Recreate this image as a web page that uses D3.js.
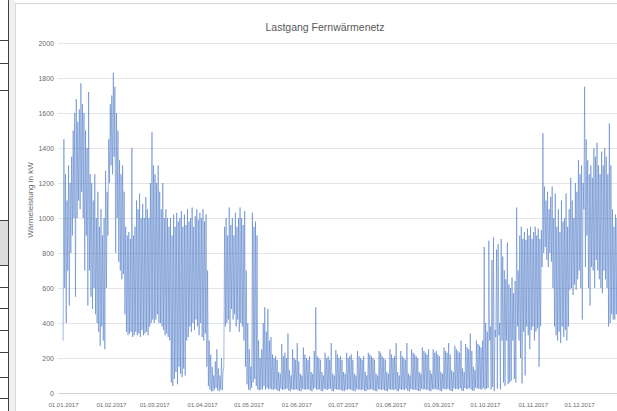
<!DOCTYPE html>
<html>
<head>
<meta charset="utf-8">
<script src="https://cdn.jsdelivr.net/npm/d3@7"></script>
<style>
  html, body { margin: 0; padding: 0; background: #ffffff; }
  svg { display: block; font-family: "Liberation Sans", Arial, sans-serif; }
</style>
</head>
<body>
<svg id="chart" width="617" height="411"></svg>
<script>
// Heat network load profile 2017: one night low and one daytime high per day (kW)
const highJan = [1450,1250,1100,1300,1200,1350,1500,1600,1680,1550,1620,1770,1650,1600,1500,1400,1720,1250,1200,1100,1250,1000,1150,950,1050,900,1000,1270,1150,1450,1650];
const lowJan  = [300,600,400,700,500,800,900,1000,550,1000,1100,1050,1150,1000,700,900,500,700,550,480,600,450,400,350,270,380,300,250,600,900,1200];
const highFeb = [1700,1830,1750,1600,1500,1330,1250,1300,1150,950,900,920,880,1400,900,950,1100,1050,1140,1000,1080,1000,1120,1050,1000,1200,1490,1300];
const lowFeb  = [1300,1250,1350,800,1000,750,700,650,680,450,350,330,340,350,320,330,350,330,340,320,360,330,340,350,330,380,400,420];
const highMar = [1250,1200,1300,1150,1050,1200,1000,1050,1000,950,1000,900,1020,950,1030,980,1000,1040,950,1020,960,1050,980,1000,1060,950,1010,1050,990,1030,1000];
const lowMar  = [400,420,450,400,400,380,360,330,340,320,300,60,40,80,120,50,150,110,90,140,100,300,320,380,350,400,360,420,380,330,400];
const highApr = [1050,980,1020,700,300,220,150,100,180,250,140,100,200,120,950,1000,900,1060,960,1000,900,1030,950,1000,1060,1000,960,1040,700,400];
const lowApr  = [320,300,340,150,40,20,10,10,20,30,15,10,20,15,150,380,400,420,350,480,420,450,380,420,350,400,380,300,150,50];
const highMay = [250,150,1030,950,980,900,300,200,250,400,490,350,480,300,320,220,200,210,190,120,110,280,210,230,200,340,130,100,250,200,190];
const lowMay  = [20,15,30,60,80,40,20,15,20,20,40,20,30,20,25,20,18,22,20,12,10,24,18,20,22,25,14,10,22,18,20];
const highJun = [285,180,110,100,260,220,200,190,210,120,110,240,490,210,200,190,120,100,230,200,210,190,285,110,100,245,220,200,210,190];
const lowJun  = [22,16,12,10,24,20,18,22,20,14,10,22,30,20,18,22,12,10,24,20,18,22,25,12,10,22,20,18,20,16];
const highJul = [120,110,230,200,210,220,190,110,100,240,210,200,190,210,120,100,230,220,210,200,190,110,100,240,230,210,200,190,120,110,250];
const lowJul  = [12,10,20,18,22,20,16,12,10,22,18,20,16,20,12,10,20,18,22,20,16,12,10,22,20,18,20,16,12,10,22];
const highAug = [220,200,210,285,120,100,240,210,200,190,285,110,100,250,230,220,210,200,120,110,260,240,230,220,250,130,110,250,230,240,220];
const lowAug  = [18,20,16,22,12,10,22,18,20,16,24,12,10,22,20,18,20,16,12,10,24,20,22,18,20,12,10,22,20,24,18];
const highSep = [210,120,110,260,240,230,285,220,130,120,270,250,240,230,300,140,120,280,260,250,340,240,150,130,300,280,270,260,300,835];
const lowSep  = [20,12,10,24,22,20,25,18,12,10,26,22,24,20,28,14,12,28,24,22,30,20,14,12,30,26,24,22,20,30];
const highOct = [400,350,870,380,760,890,360,820,850,400,880,780,700,650,860,620,600,660,570,640,1060,700,900,950,880,920,875,940,900,950,880];
const lowOct  = [20,25,30,300,20,35,10,320,25,330,20,300,60,40,300,50,60,70,300,80,60,380,300,200,55,350,100,380,330,250,360];
const highNov = [920,950,900,940,880,930,1485,1180,1100,1150,1050,1120,1180,1000,1140,950,1050,920,1100,980,1000,1140,950,1050,1230,1100,1000,1200,1150,1330];
const lowNov  = [380,300,350,370,150,380,720,800,835,760,720,800,750,600,380,330,300,350,285,380,320,360,300,380,590,600,560,620,590,650];
const highDec = [1250,1300,1200,1750,1450,1330,1250,1300,1230,1400,1350,1430,1300,1250,1380,1300,1400,1350,1250,1540,1300,1050,950,1020,1000,980,1000,1050,1100,1000,950];
const lowDec  = [700,600,420,1050,720,900,600,500,720,700,600,760,700,650,600,570,700,650,600,380,400,450,420,420,450,430,450,500,480,420,400];

const dailyHigh = [].concat(highJan, highFeb, highMar, highApr, highMay, highJun, highJul, highAug, highSep, highOct, highNov, highDec);
const dailyLow  = [].concat(lowJan, lowFeb, lowMar, lowApr, lowMay, lowJun, lowJul, lowAug, lowSep, lowOct, lowNov, lowDec);

const yTicks = [0, 200, 400, 600, 800, 1000, 1200, 1400, 1600, 1800, 2000];
const xTickLabels = ["01.01.2017","01.02.2017","01.03.2017","01.04.2017","01.05.2017","01.06.2017",
                     "01.07.2017","01.08.2017","01.09.2017","01.10.2017","01.11.2017","01.12.2017"];
const chartTitle = "Lastgang Fernwärmenetz";
const yTitle = "Wärmeleistung in kW";

const svg = d3.select("#chart");
const parse = d3.timeParse("%d.%m.%Y");
const start = new Date(2017, 0, 1);

// worksheet cells to the left of the chart object
const sheet = svg.append("g");
sheet.append("rect").attr("x", 0).attr("y", 220).attr("width", 8).attr("height", 45).attr("fill", "#dcdcdc");
sheet.append("rect").attr("x", 9).attr("y", 0).attr("width", 6).attr("height", 411).attr("fill", "#f0f0f0");
sheet.append("line").attr("x1", 8.5).attr("x2", 8.5).attr("y1", 0).attr("y2", 411).attr("stroke", "#404040").attr("stroke-width", 1);
[40, 63, 90, 220, 265, 287, 308, 330, 352, 377, 398].forEach(yy => {
  sheet.append("line").attr("x1", 0).attr("x2", 8).attr("y1", yy + 0.5).attr("y2", yy + 0.5)
    .attr("stroke", "#404040").attr("stroke-width", 1);
});
// chart object frame
svg.append("rect").attr("x", 15.5).attr("y", 3.5).attr("width", 640).attr("height", 440)
  .attr("fill", "#ffffff").attr("stroke", "#d9d9d9").attr("stroke-width", 1);

const x = d3.scaleTime().domain([start, new Date(2018, 0, 1)]).range([63, 627]);
const y = d3.scaleLinear().domain([0, 2000]).range([393, 43]);

// horizontal gridlines with value labels
const yAxis = svg.append("g").attr("transform", "translate(58,0)")
  .call(d3.axisLeft(y).tickValues(yTicks).tickSize(-600).tickPadding(4).tickFormat(d3.format("d")));
yAxis.select(".domain").remove();
yAxis.selectAll(".tick line").attr("stroke", d => d === 0 ? "#c8c8c8" : "#dedede").attr("stroke-width", 0.8);
yAxis.selectAll(".tick text").attr("fill", "#6b6b6b").attr("font-size", "7px");

// date labels along the bottom
const xAxis = svg.append("g").attr("transform", "translate(0,397)")
  .call(d3.axisBottom(x).tickValues(xTickLabels.map(parse)).tickSize(0).tickPadding(6)
    .tickFormat((d, i) => xTickLabels[i]));
xAxis.select(".domain").remove();
xAxis.selectAll(".tick text").attr("fill", "#6b6b6b").attr("font-size", "6px");

// load curve: night low, then daytime high, for each day
const points = [];
dailyHigh.forEach((h, i) => {
  points.push([d3.timeHour.offset(d3.timeDay.offset(start, i), 2), dailyLow[i]]);
  points.push([d3.timeHour.offset(d3.timeDay.offset(start, i), 14), h]);
});
const line = d3.line().x(d => x(d[0])).y(d => y(d[1]));
svg.append("path").datum(points).attr("d", line)
  .attr("fill", "none").attr("stroke", "#4472c4").attr("stroke-width", 0.9)
  .attr("stroke-opacity", 0.55).attr("stroke-linejoin", "round");

// titles
svg.append("text").attr("x", 325).attr("y", 31).attr("text-anchor", "middle")
  .attr("fill", "#595959").attr("font-size", "10.5px").text(chartTitle);
svg.append("text").attr("transform", "translate(33,200) rotate(-90)").attr("text-anchor", "middle")
  .attr("fill", "#6b6b6b").attr("font-size", "8px").text(yTitle);
</script>
</body>
</html>
